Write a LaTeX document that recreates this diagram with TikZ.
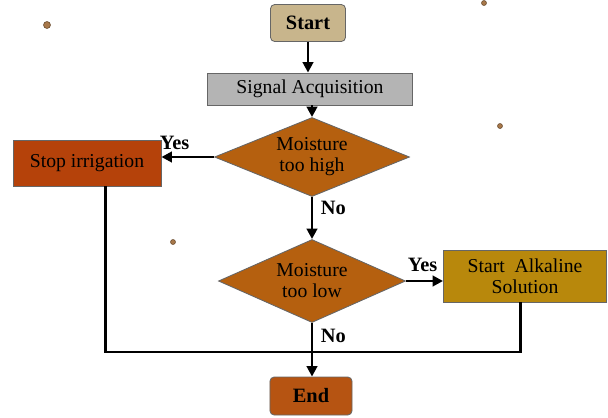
\documentclass[tikz,border=0pt]{standalone}
\usepackage{fontspec}
\setmainfont{Liberation Serif}
\usepackage{tikz}
\usetikzlibrary{arrows.meta,positioning,calc,shapes.geometric}
\definecolor{StartTan}{HTML}{C8B58C}
\definecolor{SigGray}{HTML}{B4B4B4}
\definecolor{DecOrange}{HTML}{B5600F}
\definecolor{StopRed}{HTML}{B5420A}
\definecolor{AlkGold}{HTML}{B8880C}
\definecolor{EndOrange}{HTML}{B65412}
\definecolor{SpeckBrown}{HTML}{A8784A}

\begin{document}
\begin{tikzpicture}[
  x=0.025cm, y=-0.025cm,
  box/.style={draw=black!60, line width=0.6pt, font=\fontsize{14}{15}\selectfont,
              align=center, inner sep=1pt},
  term/.style={box, rounded corners=3pt, font=\fontsize{14.5}{15}\selectfont\bfseries},
  decision/.style={box, diamond, aspect=2.5, inner sep=0pt},
  flow/.style={line width=2pt, -{Triangle[length=7.5pt,width=7.5pt]}},
  plain/.style={line width=2pt},
  tag/.style={font=\fontsize{14.5}{15}\selectfont\bfseries},
  speck/.style={fill=SpeckBrown, draw=SpeckBrown!60!black, line width=0.4pt}
]
  \useasboundingbox (0,0) rectangle (608,417);

  % stray specks
  \draw[speck] (47,25) circle (3.5);
  \draw[speck] (484,3) circle (2.5);
  \draw[speck] (500,126) circle (2.5);
  \draw[speck] (173,242) circle (2.5);

  % blocks
  \node[term, fill=StartTan, minimum width=1.875cm, minimum height=0.925cm]
    (start) at (308,23) {Start};
  \node[box, fill=SigGray, minimum width=5.125cm, minimum height=0.8cm]
    (sig) at (310,89) {Signal Acquisition};
  \node[decision, fill=DecOrange, minimum width=4.875cm, minimum height=1.975cm]
    (high) at (312,157) {Moisture\\too high};
  \node[box, fill=StopRed, minimum width=3.7cm, minimum height=1.15cm]
    (stop) at (87,163) {Stop irrigation};
  \node[decision, fill=DecOrange, minimum width=4.675cm, minimum height=2.075cm]
    (low) at (312,281) {Moisture\\too low};
  \node[box, fill=AlkGold, minimum width=4.075cm, minimum height=1.3cm]
    (alk) at (525,276) {Start~~Alkaline\\Solution};
  \node[term, fill=EndOrange, minimum width=2.05cm, minimum height=0.95cm]
    (end) at (311,396) {End};
  \coordinate (join) at (312,352);

  % connectors
  \draw[flow] (start) -- (start |- sig.north);
  \draw[flow] (high |- sig.south) -- (high);
  \draw[flow] (high.west) -- (high.west -| stop.east)
    node[tag, pos=0.75, above=1pt] {Yes};
  \draw[flow] (high) -- (low)
    node[tag, pos=0.25, right=2pt] {No};
  \draw[flow] (low.east) -- (low.east -| alk.west)
    node[tag, pos=0.45, above=2pt] {Yes};
  \draw[flow] (low) -- (low |- end.north)
    node[tag, pos=0.25, right=2pt] {No};
  \draw[plain] ([xshift=13]stop.south) |- (join);
  \draw[plain] ([xshift=-3]alk.south) |- (join);
\end{tikzpicture}
\end{document}
